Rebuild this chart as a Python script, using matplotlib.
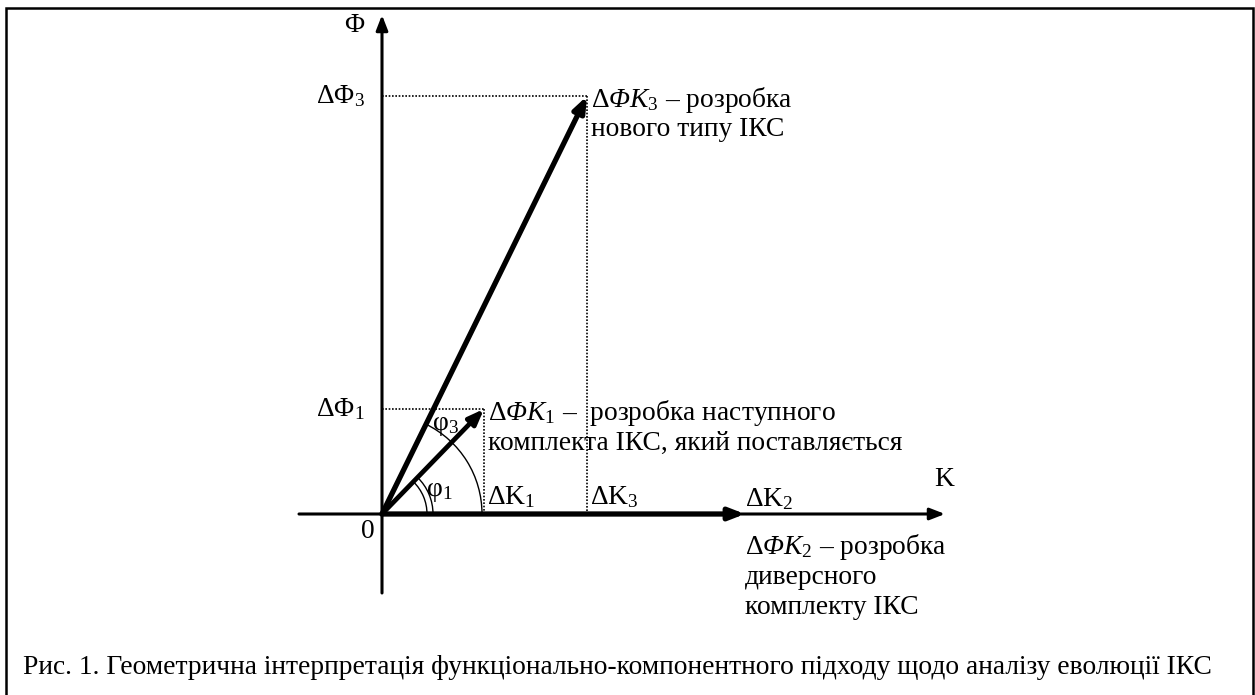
import numpy as np
import matplotlib.pyplot as plt
from matplotlib.patches import Arc, Rectangle

plt.rcParams['font.family'] = ['Liberation Serif', 'DejaVu Serif']
# math: "rm"/"it" -> italic (for ΦK), "bf" -> plain upright (for Δ, digits)
plt.rcParams['mathtext.fontset'] = 'custom'
plt.rcParams['mathtext.rm'] = 'Liberation Serif:italic'
plt.rcParams['mathtext.it'] = 'Liberation Serif:italic'
plt.rcParams['mathtext.bf'] = 'Liberation Serif'

# vector end points (K, Phi) in drawing units
vec_names = ['1', '2', '3']
vec_k = [102, 363, 205]
vec_phi = [105, 0, 418]
vec_width = [3.4, 3.8, 3.8]

axis_k = [-83, 563]
axis_phi = [-79, 499]

arc_radius_phi1 = [45, 51]
arc_radius_phi3 = [100]

captions = {
    '1': ["$\\mathbf{\\Delta}\\Phi K_{\\mathbf{1}}$ –  розробка наступного",
          "комплекта ІКС, який поставляється"],
    '2': ["$\\mathbf{\\Delta}\\Phi K_{\\mathbf{2}}$ – розробка", "диверсного", "комплекту ІКС"],
    '3': ["$\\mathbf{\\Delta}\\Phi K_{\\mathbf{3}}$ – розробка", "нового типу ІКС"],
}
fig_caption = "Рис. 1. Геометрична інтерпретація функціонально-компонентного підходу щодо аналізу еволюції ІКС"

FS = 19.8

fig = plt.figure(figsize=(12.55, 6.95), dpi=100)
ax = fig.add_axes([0, 0, 1, 1])
ax.set_xlim(-382, 1255 - 382)
ax.set_ylim(514 - 695, 514)
ax.set_aspect('equal')
ax.axis('off')

# frame
fig.patches.append(Rectangle((6 / 1255, -0.05), 1247 / 1255, 1 - 8 / 695 + 0.05,
                             transform=fig.transFigure, fill=False,
                             edgecolor='black', linewidth=1.8))

arrow = '-|>,head_length=0.9,head_width=0.35'

# axes with arrows
ax.annotate('', xy=(axis_k[1], 0), xytext=(axis_k[0], 0),
            arrowprops=dict(arrowstyle=arrow, lw=2.2, color='black', shrinkA=0, shrinkB=0))
ax.annotate('', xy=(0, axis_phi[1]), xytext=(0, axis_phi[0]),
            arrowprops=dict(arrowstyle=arrow, lw=2.2, color='black', shrinkA=0, shrinkB=0))

# dotted projections
for name, k, p in zip(vec_names, vec_k, vec_phi):
    if p == 0:
        continue
    ax.plot([0, k], [p, p], color='black', lw=1.2, ls=(0, (1, 1)))
    ax.plot([k, k], [p, 0], color='black', lw=1.2, ls=(0, (1, 1)))

# arcs
ang1 = np.degrees(np.arctan2(vec_phi[0], vec_k[0]))
ang3 = np.degrees(np.arctan2(vec_phi[2], vec_k[2]))
for r in arc_radius_phi1:
    ax.add_patch(Arc((0, 0), 2 * r, 2 * r, theta1=0, theta2=ang1, lw=1.0, color='black'))
for r in arc_radius_phi3:
    ax.add_patch(Arc((0, 0), 2 * r, 2 * r, theta1=0, theta2=ang3, lw=1.0, color='black'))

# vectors
for name, k, p, w in zip(vec_names, vec_k, vec_phi, vec_width):
    ax.annotate('', xy=(k, p), xytext=(0, 0),
                arrowprops=dict(arrowstyle=arrow, lw=w, color='black', shrinkA=0, shrinkB=0))

# axis labels
ax.text(-28, 488, 'Φ', fontsize=FS, ha='center', va='center')
ax.text(562, 34, 'K', fontsize=FS, ha='center', va='center')
ax.text(-14, -18, '0', fontsize=FS, ha='center', va='center')
ax.text(-17, vec_phi[2], '$\\mathbf{\\Delta\\Phi_3}$', fontsize=FS, ha='right', va='center')
ax.text(-17, vec_phi[0], '$\\mathbf{\\Delta\\Phi_1}$', fontsize=FS, ha='right', va='center')
ax.text(vec_k[0] + 3, 17, '$\\mathbf{\\Delta K_1}$', fontsize=FS, ha='left', va='center')
ax.text(vec_k[2] + 3, 17, '$\\mathbf{\\Delta K_3}$', fontsize=FS, ha='left', va='center')
ax.text(vec_k[1], 15, '$\\mathbf{\\Delta K_2}$', fontsize=FS, ha='left', va='center')
ax.text(44, 22, '$\\mathbf{φ_1}$', fontsize=FS, ha='left', va='center')
ax.text(50, 88, '$\\mathbf{φ_3}$', fontsize=FS, ha='left', va='center')

# vector descriptions
line_gap = 30
for i, line in enumerate(captions['3']):
    ax.text(vec_k[2] + 4, vec_phi[2] - 4 - i * line_gap, line, fontsize=FS, ha='left', va='center')
for i, line in enumerate(captions['1']):
    ax.text(vec_k[0] + 4, vec_phi[0] - 4 - i * line_gap, line, fontsize=FS, ha='left', va='center')
for i, line in enumerate(captions['2']):
    ax.text(vec_k[1], -33 - i * line_gap, line, fontsize=FS, ha='left', va='center')

ax.text(617 - 382, 514 - 668, fig_caption, fontsize=FS, ha='center', va='center')

fig.savefig('out.png', dpi=100)
